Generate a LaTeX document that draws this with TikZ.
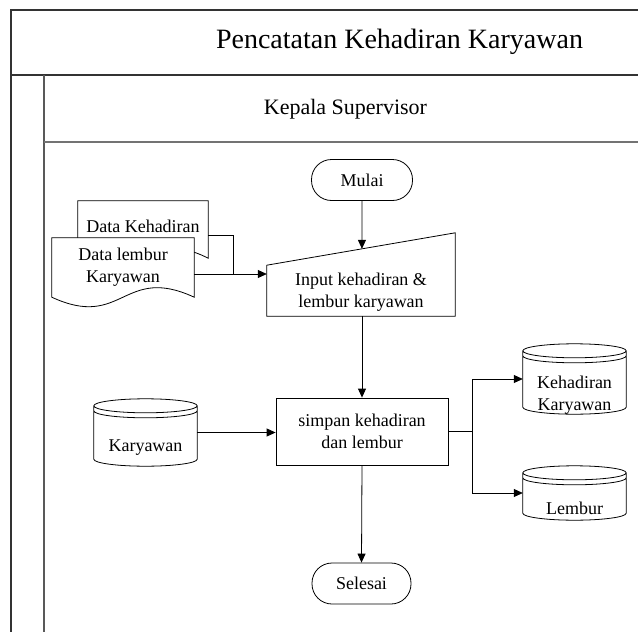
\documentclass[tikz,border=0pt]{standalone}
\usepackage{fontspec}
\setmainfont{Liberation Serif}
\usetikzlibrary{arrows.meta,calc}

% cylinder (data store) drawn around an invisible node
\newcommand\dbdraw[1]{%
  \path[line, fill=white] let \p1=(#1.north west), \p2=(#1.south east), \n1={0.5*(\x2-\x1)} in
    (\x1,\y1-7pt) -- (\x1,\y2+7pt)
      arc[start angle=180, end angle=360, x radius=\n1, y radius=7pt]
      -- (\x2,\y1-7pt)
      arc[start angle=0, end angle=180, x radius=\n1, y radius=7pt] -- cycle
    (\x1,\y1-7pt) arc[start angle=180, end angle=360, x radius=\n1, y radius=7pt]
    (\x1,\y1-12pt) arc[start angle=180, end angle=360, x radius=\n1, y radius=7pt];%
}
% paper document with a wavy lower edge
\newcommand\docdraw[1]{%
  \path[line, fill=white] let \p1=(#1.north west), \p2=(#1.south east) in
    (\x1,\y2) -- (\x1,\y1) -- (\x2,\y1) -- (\x2,\y2)
    .. controls ({0.5*(\x1+\x2)},\y2+33pt) and ({0.5*(\x1+\x2)},\y2-33pt) .. (\x1,\y2) -- cycle;%
}

\begin{document}
\begin{tikzpicture}[x=1pt, y=-1pt,
  line/.style={draw=black, line width=0.8pt},
  arr/.style={line, -{Triangle[length=9pt, width=8pt]}},
  txt/.style={font=\fontsize{18}{22}\selectfont, align=center, inner sep=0pt},
  terminal/.style={line, fill=white, rounded corners=20pt, minimum width=101pt,
    minimum height=41pt, txt},
  procbox/.style={line, fill=white, minimum width=172pt, minimum height=67pt, txt},
  area/.style={inner sep=0pt, minimum width=#1},
]
\useasboundingbox (0,0) rectangle (638,632);

% pool and lane frame
\draw[line width=1.5pt, black!80] (11,632) -- (11,10) -- (645,10);
\draw[line width=2.5pt, black!80] (11,75) -- (645,75);
\draw[line width=1.5pt, black!65] (44,75) -- (44,632);
\draw[line width=1.5pt, black!55] (44,142) -- (645,142);
\node[font=\fontsize{28}{32}\selectfont] (pool) at (399.5,42) {Pencatatan Kehadiran Karyawan};
\node[font=\fontsize{22}{26}\selectfont] (lane) at (345.5,109) {Kepala Supervisor};

% terminals
\node[terminal] (start) at (362,180) {Mulai};
\node[terminal, minimum width=99pt] (finish) at (361.5,583.5) {Selesai};

% manual input
\node[area=188pt, minimum height=83pt] (inp) at (361,274.5) {};
\coordinate (inL) at ($(inp.south west)+(0,-51)$);
\path[line, fill=white] (inL) -- (inp.north east) -- (inp.south east) -- (inp.south west) -- cycle;
\node[txt] (inptxt) at (361,292) {Input kehadiran \&\\lembur karyawan};

% process
\node[procbox] (proc) at (362,431.5) {simpan kehadiran\\dan lembur};

% documents
\node[area=130pt, minimum height=57pt] (dk) at (143,229.5) {};
\docdraw{dk}
\node[txt] (dktxt) at (143,226) {Data Kehadiran};
\node[area=142pt, minimum height=59pt] (dl) at (123,267.5) {};
\docdraw{dl}
\node[txt] (dltxt) at (123,267) {Data lembur\\Karyawan};

% data stores
\node[area=103pt, minimum height=67pt] (kar) at (145.5,432.5) {};
\dbdraw{kar}
\node[txt] (kartxt) at (145.5,448) {Karyawan};
\node[area=103pt, minimum height=70pt] (kk) at (574.5,379) {};
\dbdraw{kk}
\node[txt] (kktxt) at (574.5,395) {Kehadiran\\Karyawan};
\node[area=103pt, minimum height=54pt] (lb) at (574.5,493) {};
\dbdraw{lb}
\node[txt] (lbtxt) at (574.5,508) {Lembur};

% connectors
\draw[arr] (start.south) -- ($(inL)!0.505!(inp.north east)$);
\coordinate (join) at (233,274);
\draw[line] ($(dk.north east)+(0,35)$) -| (join);
\draw[arr] (dl.east |- join) -- (inp.west |- join);
\draw[arr] (proc.north |- inp.south) -- (proc.north);
\draw[arr] (kar.east) -- (proc.west |- kar.east);
\coordinate (split) at ($(proc.east)+(24,0)$);
\draw[line] (proc.east) -- (split);
\draw[arr] (split) |- (kk.west);
\draw[arr] (split) |- (lb.west);
\draw[arr] (proc.south) -- (finish.north);
\end{tikzpicture}
\end{document}
